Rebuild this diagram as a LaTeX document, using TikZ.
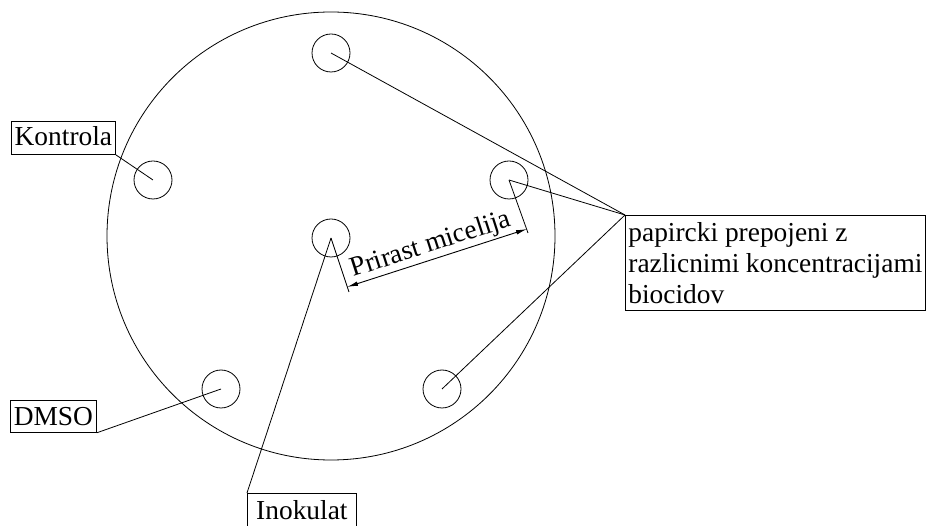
\documentclass[tikz,border=0pt]{standalone}
\usepackage{fontspec}
\setmainfont{Liberation Serif}
\usetikzlibrary{arrows.meta}
\tikzset{
  pxgrid/.style={x=1pt,y=-1pt},
  dish/.style={draw=black,line width=0.8pt},
  disc/.style={circle,draw=black,line width=0.8pt,minimum size=38pt,inner sep=0pt},
  labelbox/.style={draw=black,line width=0.8pt,inner sep=0pt,font=\fontsize{27.4}{31}\selectfont,anchor=north west},
  leader/.style={draw=black,line width=0.8pt},
  dimline/.style={draw=black,line width=0.9pt,{Latex[length=11pt,width=4.5pt]}-{Latex[length=11pt,width=4.5pt]}}
}
\begin{document}
\begin{tikzpicture}[pxgrid]
\useasboundingbox (0,0) rectangle (930,526);
\node[circle,dish,minimum size=448pt,inner sep=0pt] (plate) at (331,236) {};
\node[disc] (top) at (331,53) {};
\node[disc] (right) at (509,180) {};
\node[disc] (mid) at (331,238) {};
\node[disc] (ctrl) at (153,180) {};
\node[disc] (dm) at (221,389) {};
\node[disc] (low) at (442,389) {};
\node[labelbox,minimum width=104pt,minimum height=33pt,text depth=3pt] (kontrola) at (11,121) {Kontrola};
\node[labelbox,minimum width=86pt,minimum height=32pt] (dmso) at (10,400) {DMSO};
\node[labelbox,minimum width=109pt,minimum height=33pt] (inok) at (247,493) {Inokulat};
\node[labelbox,minimum width=300pt,minimum height=95pt,text width=294pt,align=flush left] (pap) at (625,215) {papircki prepojeni z\\razlicnimi koncentracijami\\biocidov};
\draw[leader] (top.center) -- (pap.north west);
\draw[leader] (right.center) -- (pap.north west);
\draw[leader] (low.center) -- (pap.north west);
\draw[leader] (mid.center) -- (inok.north west);
\draw[leader] (ctrl.center) -- (kontrola.south east);
\draw[leader] (dm.center) -- (dmso.south east);
\coordinate (d1) at (347,287);
\coordinate (d2) at (527,229);
\coordinate (e1) at (349,292);
\coordinate (e2) at (528,233);
\draw[leader] (mid.center) -- (e1);
\draw[leader] (right.center) -- (e2);
\draw[dimline] (d1) -- (d2);
\node[font=\fontsize{27.4}{31}\selectfont,rotate=17.9,inner sep=0pt] (lab) at (431,245) {Prirast micelija};
\end{tikzpicture}
\end{document}
